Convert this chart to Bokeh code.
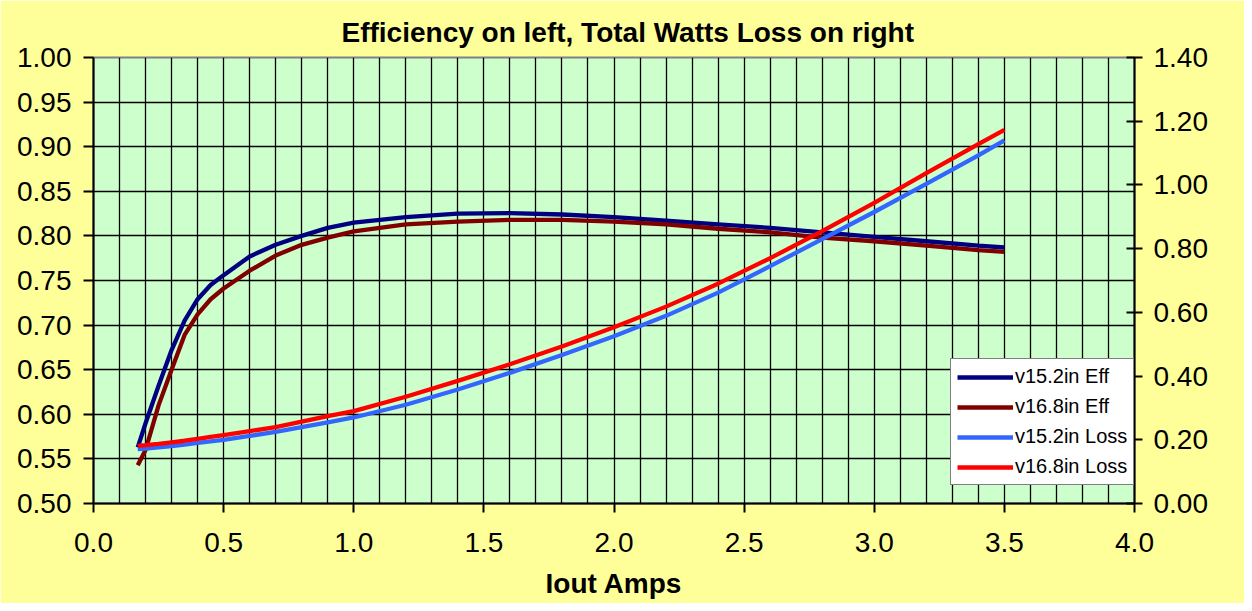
from bokeh.plotting import figure
from bokeh.models import (Range1d, LinearAxis, FixedTicker, NumeralTickFormatter,
                          Legend, LegendItem)
from bokeh.embed import file_html
from bokeh.resources import INLINE

# ---- data ----
iout = [0.17, 0.20, 0.25, 0.30, 0.35, 0.40, 0.45, 0.50, 0.60, 0.70, 0.80, 0.90, 1.00, 1.20,
        1.40, 1.60, 1.80, 2.00, 2.20, 2.40, 2.60, 2.80, 3.00, 3.20, 3.40, 3.50]
eff_152 = [0.563, 0.590, 0.632, 0.672, 0.705, 0.729, 0.745, 0.756, 0.777, 0.790, 0.800, 0.809, 0.815,
           0.821, 0.825, 0.8255, 0.824, 0.821, 0.817, 0.813, 0.809, 0.804, 0.799, 0.794, 0.789, 0.787]
eff_168 = [0.543, 0.560, 0.610, 0.650, 0.689, 0.712, 0.729, 0.741, 0.761, 0.778, 0.790, 0.798, 0.805,
           0.813, 0.816, 0.818, 0.818, 0.816, 0.813, 0.808, 0.804, 0.798, 0.794, 0.789, 0.784, 0.782]
loss_152 = [0.171, 0.172, 0.176, 0.180, 0.185, 0.190, 0.195, 0.200, 0.212, 0.225, 0.240, 0.255, 0.270,
            0.310, 0.358, 0.410, 0.466, 0.525, 0.589, 0.662, 0.745, 0.830, 0.915, 1.003, 1.093, 1.140]
loss_168 = [0.181, 0.183, 0.187, 0.192, 0.197, 0.203, 0.209, 0.215, 0.227, 0.240, 0.257, 0.274, 0.290,
            0.335, 0.385, 0.437, 0.493, 0.553, 0.618, 0.690, 0.770, 0.855, 0.944, 1.037, 1.128, 1.173]

series_names = ["v15.2in Eff", "v16.8in Eff", "v15.2in Loss", "v16.8in Loss"]
title_text = "Efficiency on left, Total Watts Loss on right"
x_label = "Iout Amps"

x_ticks = [0.0, 0.5, 1.0, 1.5, 2.0, 2.5, 3.0, 3.5, 4.0]
x_grid_ticks = [round(i * 0.1, 1) for i in range(41)]
eff_ticks = [0.50, 0.55, 0.60, 0.65, 0.70, 0.75, 0.80, 0.85, 0.90, 0.95, 1.00]
loss_ticks = [0.0, 0.2, 0.4, 0.6, 0.8, 1.0, 1.2, 1.4]

FONT = "Liberation Sans"

p = figure(width=1244, height=603, frame_width=1041, frame_height=446,
           min_border_left=93, min_border_right=110, min_border_top=57, min_border_bottom=100,
           x_range=Range1d(0, 4), y_range=Range1d(0.5, 1.0),
           output_backend="svg", toolbar_location=None,
           background_fill_color="#CCFFCC", border_fill_color="#FFFF99",
           title=title_text)

p.outline_line_color = "#808080"
p.outline_line_width = 2

p.title.align = "left"
p.title.offset = 248
p.title.text_font = FONT
p.title.text_font_size = "28px"
p.title.text_font_style = "bold"
p.title.text_color = "#000000"
p.title.standoff = 19

p.extra_y_ranges = {"loss": Range1d(0, 1.4)}

# x axis
xa = p.xaxis[0]
xa.ticker = FixedTicker(ticks=x_ticks)
xa.formatter = NumeralTickFormatter(format="0.0")
xa.axis_label = x_label
# y axis (left)
ya = p.yaxis[0]
ya.ticker = FixedTicker(ticks=eff_ticks)
ya.formatter = NumeralTickFormatter(format="0.00")
# right axis
ra = LinearAxis(y_range_name="loss", ticker=FixedTicker(ticks=loss_ticks),
                formatter=NumeralTickFormatter(format="0.00"))
p.add_layout(ra, "right")

for ax in (xa, ya, ra):
    ax.axis_line_color = "#000000"
    ax.axis_line_width = 2
    ax.major_tick_line_color = "#000000"
    ax.major_tick_line_width = 2
    ax.minor_tick_line_color = None
    ax.major_label_text_font = FONT
    ax.major_label_text_font_size = "28px"
    ax.major_label_text_color = "#000000"
    ax.axis_label_text_font = FONT
    ax.axis_label_text_font_size = "28px"
    ax.axis_label_text_font_style = "bold"
    ax.axis_label_text_color = "#000000"

xa.major_tick_in = 0
xa.major_tick_out = 9
xa.major_label_standoff = 20
xa.axis_label_standoff = 13
ya.major_tick_in = 0
ya.major_tick_out = 10
ya.major_label_standoff = 12
ra.major_tick_in = 8
ra.major_tick_out = 8
ra.major_label_standoff = 11

# grids
p.xgrid.ticker = FixedTicker(ticks=x_grid_ticks)
for g in (p.xgrid[0], p.ygrid[0]):
    g.grid_line_color = "#000000"
    g.grid_line_width = 1.3
    g.grid_line_alpha = 1.0

# lines
r1 = p.line(iout, eff_152, line_color="#000080", line_width=4.3)
r2 = p.line(iout, eff_168, line_color="#800000", line_width=4.3)
r3 = p.line(iout, loss_152, line_color="#3366FF", line_width=4.3, y_range_name="loss")
r4 = p.line(iout, loss_168, line_color="#FF0000", line_width=4.3, y_range_name="loss")

legend = Legend(items=[LegendItem(label=series_names[0], renderers=[r1]),
                       LegendItem(label=series_names[1], renderers=[r2]),
                       LegendItem(label=series_names[2], renderers=[r3]),
                       LegendItem(label=series_names[3], renderers=[r4])],
                location=(857, 18))
legend.background_fill_color = "#FFFFFF"
legend.background_fill_alpha = 1.0
legend.border_line_color = "#000000"
legend.border_line_width = 1.5
legend.label_text_font = FONT
legend.label_text_font_size = "20px"
legend.label_text_color = "#000000"
legend.glyph_width = 56
legend.glyph_height = 20
legend.label_height = 20
legend.label_standoff = 2
legend.spacing = 7
legend.padding = 6
legend.margin = 0
p.add_layout(legend)

open("out.html", "w").write(file_html(p, INLINE))
